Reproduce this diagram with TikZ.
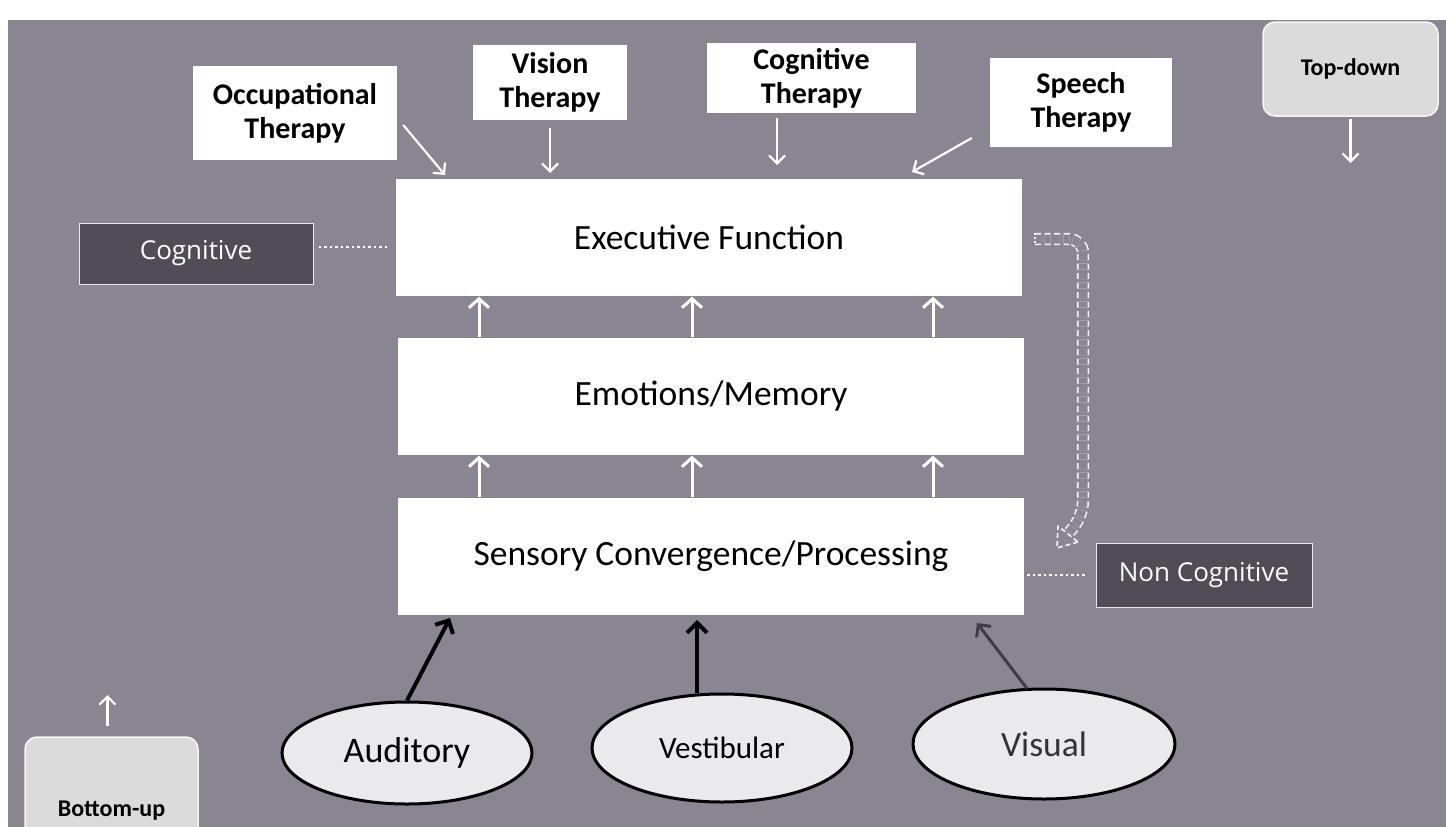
\documentclass[tikz,border=0pt]{standalone}
\usepackage{fontspec}
\setmainfont{Carlito}
\newfontfamily\tagfont{Open Sans}
\usetikzlibrary{arrows.meta,shapes.geometric}
\definecolor{bg}{HTML}{8A8691}
\definecolor{tagfill}{HTML}{514C55}
\definecolor{softbox}{HTML}{DBDBDB}
\definecolor{ovalfill}{HTML}{EAEAEC}
\definecolor{visarrow}{HTML}{3E3C48}

\begin{document}
\begin{tikzpicture}[x=1pt,y=-1pt,
  layer/.style={fill=white, minimum width=626, minimum height=117, inner sep=0,
    font=\fontsize{35.5}{40}\selectfont},
  therapy/.style={fill=white, inner sep=0, align=center,
    font=\bfseries\fontsize{30}{34}\selectfont},
  tag/.style={fill=tagfill, draw=white!80!bg, line width=1, text=white, inner sep=0,
    font=\tagfont\fontsize{26}{30}\selectfont},
  soft/.style={fill=softbox, draw=white!75!softbox, line width=1.5, rounded corners=12,
    inner sep=0, font=\bfseries\fontsize{24}{28}\selectfont},
  sense/.style={ellipse, draw=black, line width=3, fill=ovalfill, inner sep=0},
  upw/.style={white, line width=3, shorten >=1pt, -{Straight Barb[length=9pt,width=20pt,line width=3pt]}},
  thinw/.style={white, line width=2.2, -{Straight Barb[length=8pt,width=16pt,line width=2.2pt]}},
  feed/.style={line width=4, -{Straight Barb[length=10pt,width=20pt,line width=4pt]}},
  link/.style={white, line width=2.2, dash pattern=on 2.5pt off 3pt}
]
% canvas
\useasboundingbox (0,0) rectangle (1446,827);
\fill[bg] (8,20) rectangle (1446,827);

% the three processing layers
\node[layer] (exec) at (709,237) {Executive Function};
\node[layer] (emo)  at (711,396) {Emotions/Memory};
\node[layer] (sens) at (711,556) {Sensory Convergence/Processing};

% therapies
\node[therapy, minimum width=204, minimum height=94] (ot) at (295,113)   {Occupational\\Therapy};
\node[therapy, minimum width=154, minimum height=75] (vt) at (550,82.5)  {Vision\\Therapy};
\node[therapy, minimum width=209, minimum height=70] (ct) at (811.5,78)  {Cognitive\\Therapy};
\node[therapy, minimum width=182, minimum height=89] (st) at (1081,102.5) {Speech\\Therapy};

% direction labels
\node[soft, minimum width=175, minimum height=94] (td) at (1350.5,69) {Top-down};
\begin{scope}
  \clip (0,0) rectangle (1446,827);
  \node[soft, minimum width=173, minimum height=148] (bu) at (111.5,811) {Bottom-up};
\end{scope}

% level tags
\node[tag, minimum width=234, minimum height=61] (cog)  at (196,253.5) {Cognitive};
\node[tag, minimum width=216, minimum height=64] (ncog) at (1204,575)   {Non Cognitive};

% senses
\node[sense, minimum width=250, minimum height=102, font=\fontsize{36}{40}\selectfont] (aud) at (407,753) {Auditory};
\node[sense, minimum width=260, minimum height=108, font=\fontsize{31}{36}\selectfont] (ves) at (722,748) {Vestibular};
\node[sense, minimum width=262, minimum height=110, font=\fontsize{35.5}{40}\selectfont, text=black!80] (vis) at (1044,744) {Visual};

% upward flow between layers
\coordinate (c1) at (479,0);
\coordinate (c2) at (692,0);
\coordinate (c3) at (933,0);
\foreach \c in {c1,c2,c3}{
  \draw[upw] (emo.north -| \c)  -- (exec.south -| \c);
  \draw[upw] (sens.north -| \c) -- (emo.south -| \c);
}

% therapies acting on executive function
\coordinate (otT) at (445,175);
\coordinate (vtT) at (550,173);
\coordinate (ctT) at (777,165);
\coordinate (stT) at (912,172);
\draw[thinw] ([shift={(6,12)}]ot.east) -- (otT);
\draw[thinw] ([shift={(0,8)}]vt.south) -- (vtT);
\draw[thinw] ([shift={(-34.5,5)}]ct.south) -- (ctT);
\draw[thinw] ([shift={(-18,35.5)}]st.west) -- (stT);

% top-down / bottom-up markers
\coordinate (tdT) at (1350.5,163);
\coordinate (buT) at (107.5,695);
\draw[thinw] ([shift={(0,2)}]td.south) -- (tdT);
\draw[thinw] ([shift={(-4,-10)}]bu.north) -- (buT);

% sensory inputs
\coordinate (audT) at (450,618);
\coordinate (vesT) at (697,620);
\coordinate (visT) at (977,623);
\draw[feed] (aud.north) -- (audT);
\draw[feed] ([shift={(-25,0)}]ves.north) -- (vesT);
\draw[feed, visarrow, line width=3, -{Straight Barb[length=9pt,width=18pt,line width=3pt]}] ([shift={(-17,1)}]vis.north) -- (visT);

% dotted links to the level tags
\coordinate (cogL) at (388,247);
\draw[link, shorten <=5pt] (cog.east |- cogL) -- (cogL);
\draw[link, shorten <=3pt, shorten >=10pt] (sens.east |- ncog.west) -- (ncog.west);

% hollow dashed feedback arrow
\coordinate (d0) at (1035,239);
\coordinate (d1) at (1083,515);
\coordinate (d2) at (1068,534);
\draw[white!90!bg, line width=1.6, dash pattern=on 6pt off 3.5pt, double=bg, double distance=9pt, rounded corners=14pt]
  (d0) -| (d1) -- (d2);
\draw[white!90!bg, line width=1.6, dash pattern=on 2pt off 2pt] (1035,233) -- (1035,245);
\draw[white!90!bg, line width=1.6, dash pattern=on 5pt off 3pt, fill=bg, line join=round]
  (1078,542) -- (1057,548) -- (1058,526) -- cycle;
\end{tikzpicture}
\end{document}
